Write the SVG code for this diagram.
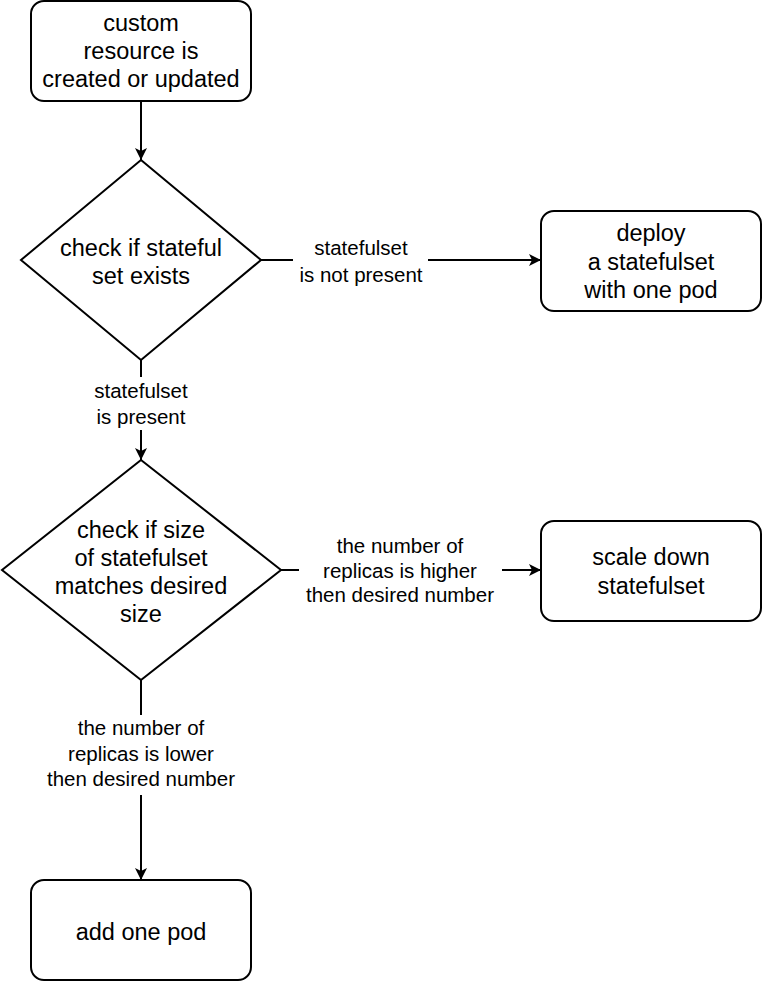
<svg xmlns="http://www.w3.org/2000/svg" width="762" height="982" viewBox="0 0 762 982">
<defs>
<style>
.node{fill:#fff;stroke:#000;stroke-width:2}
.nt{font-family:"Liberation Sans",Arial,Helvetica,sans-serif;font-size:23.5px;fill:#000;text-anchor:middle}
.lt{font-family:"Liberation Sans",Arial,Helvetica,sans-serif;font-size:20.5px;fill:#000;text-anchor:middle}
.edge{fill:none;stroke:#000;stroke-width:2}
</style>
<marker id="arr" viewBox="0 0 12 12" refX="12" refY="6" markerWidth="12" markerHeight="12" markerUnits="userSpaceOnUse" orient="auto">
<path d="M0,0 L12,6 L0,12 L3,6 Z" fill="#000"/>
</marker>
</defs>
<rect width="762" height="982" fill="#fff"/>
<g id="connectors">
<path class="edge" d="M141,101 L141,160" marker-end="url(#arr)"/>
<path class="edge" d="M261,260 L293,260"/>
<path class="edge" d="M428,260 L541,260" marker-end="url(#arr)"/>
<path class="edge" d="M141,360 L141,377"/>
<path class="edge" d="M141,430 L141,460" marker-end="url(#arr)"/>
<path class="edge" d="M281,570 L299,570"/>
<path class="edge" d="M502,570 L541,570" marker-end="url(#arr)"/>
<path class="edge" d="M141,680 L141,715"/>
<path class="edge" d="M141,795 L141,880" marker-end="url(#arr)"/>
</g>
<g id="labels">
<text class="lt" x="361" y="255">statefulset</text>
<text class="lt" x="361" y="282">is not present</text>
<text class="lt" x="141" y="398">statefulset</text>
<text class="lt" x="141" y="424">is present</text>
<text class="lt" x="400" y="553">the number of</text>
<text class="lt" x="400" y="578">replicas is higher</text>
<text class="lt" x="400" y="602">then desired number</text>
<text class="lt" x="141" y="735">the number of</text>
<text class="lt" x="141" y="761">replicas is lower</text>
<text class="lt" x="141" y="786">then desired number</text>
</g>
<g id="n-start">
<rect class="node" x="31" y="1" width="220" height="100" rx="13"/>
<text class="nt" x="141" y="31">custom</text>
<text class="nt" x="141" y="59">resource is</text>
<text class="nt" x="141" y="87">created or updated</text>
</g>
<g id="n-check-exists">
<polygon class="node" points="141,160 261,260 141,360 21,260"/>
<text class="nt" x="141" y="256">check if stateful</text>
<text class="nt" x="141" y="284">set exists</text>
</g>
<g id="n-deploy">
<rect class="node" x="541" y="211" width="220" height="100" rx="13"/>
<text class="nt" x="651" y="241">deploy</text>
<text class="nt" x="651" y="270">a statefulset</text>
<text class="nt" x="651" y="298">with one pod</text>
</g>
<g id="n-check-size">
<polygon class="node" points="141,460 281,570 141,680 2,570"/>
<text class="nt" x="141" y="538">check if size</text>
<text class="nt" x="141" y="566">of statefulset</text>
<text class="nt" x="141" y="594">matches desired</text>
<text class="nt" x="141" y="622">size</text>
</g>
<g id="n-scale-down">
<rect class="node" x="541" y="521" width="220" height="100" rx="13"/>
<text class="nt" x="651" y="565">scale down</text>
<text class="nt" x="651" y="594">statefulset</text>
</g>
<g id="n-add-pod">
<rect class="node" x="31" y="880" width="220" height="100" rx="13"/>
<text class="nt" x="141" y="940">add one pod</text>
</g>
</svg>
